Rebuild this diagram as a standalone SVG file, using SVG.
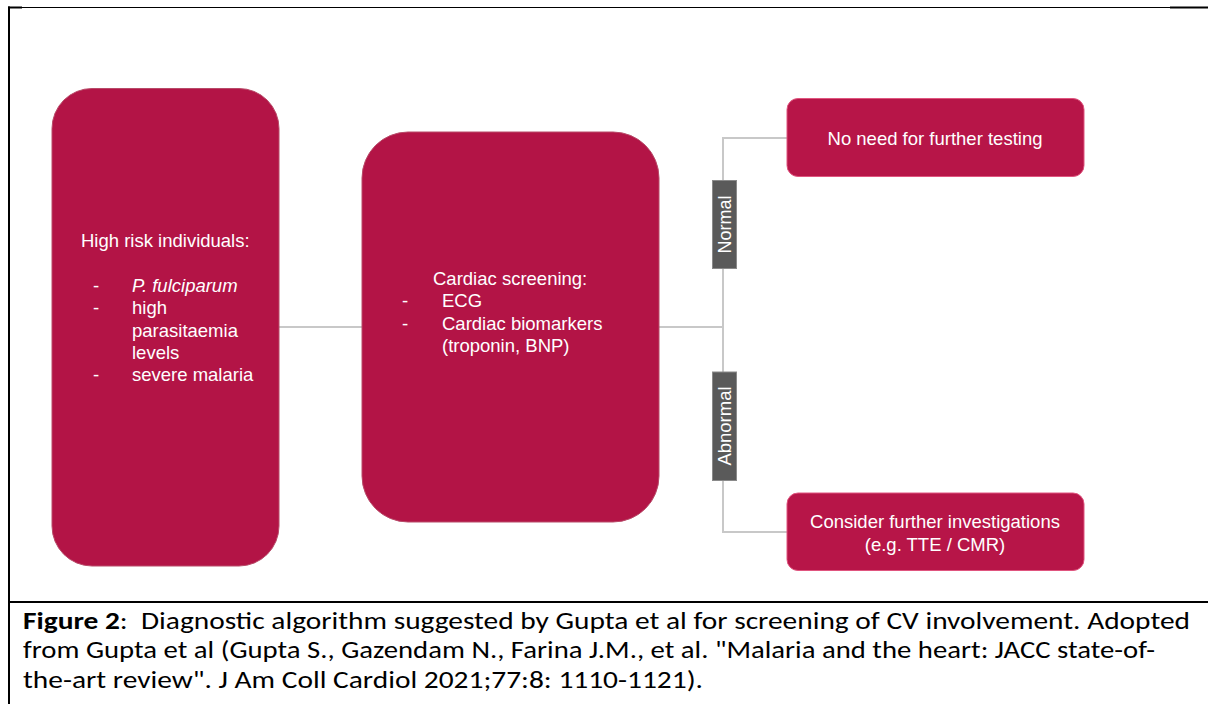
<svg xmlns="http://www.w3.org/2000/svg" width="1208" height="704" viewBox="0 0 1208 704">
  <style>
    .node { fill: #B31446; stroke: #b84a68; stroke-width: 1; }
    .small { fill: #B71548; stroke: #e0557f; stroke-width: 1; }
    .t { font-family: "Liberation Sans", Arial, sans-serif; font-size: 18.5px; fill: #ffffff; }
    .lab { fill: #5a5a5a; stroke: #8a8a8a; stroke-width: 1; }
    .lt { font-family: "Liberation Sans", Arial, sans-serif; font-size: 18px; fill: #ffffff; }
    .conn { fill: none; stroke: #c8c8c8; stroke-width: 2; }
    .cap { font-family: Carlito, Calibri, "Open Sans", "Liberation Sans", sans-serif; font-size: 23.5px; fill: #000000; }
  </style>
  <rect x="0" y="0" width="1208" height="704" fill="#ffffff"/>
  <g id="frame">
    <line x1="9" y1="7.5" x2="1170" y2="7.5" stroke="#000" stroke-width="1.2"/>
    <line x1="8" y1="7.5" x2="22" y2="7.5" stroke="#000" stroke-width="2"/>
    <line x1="1170" y1="7.5" x2="1208" y2="7.5" stroke="#000" stroke-width="2"/>
    <line x1="9" y1="6.5" x2="9" y2="704" stroke="#000" stroke-width="2"/>
    <line x1="8" y1="602" x2="1208" y2="602" stroke="#000" stroke-width="2"/>
  </g>
  <g id="connectors">
    <line class="conn" x1="279" y1="327" x2="362" y2="327"/>
    <line class="conn" x1="659" y1="327" x2="723" y2="327"/>
    <polyline class="conn" points="787,138 723,138 723,532 787,532"/>
  </g>
  <g id="node-high-risk">
    <rect class="node" x="52" y="88.5" width="227" height="477.5" rx="40" ry="40"/>
    <text class="t" x="81" y="247">High risk individuals:</text>
    <text class="t" x="93" y="292">-</text>
    <text class="t" x="132" y="292" font-style="italic">P. fulciparum</text>
    <text class="t" x="93" y="314">-</text>
    <text class="t" x="132" y="314">high</text>
    <text class="t" x="132" y="337">parasitaemia</text>
    <text class="t" x="132" y="359">levels</text>
    <text class="t" x="93" y="381">-</text>
    <text class="t" x="132" y="381">severe malaria</text>
  </g>
  <g id="node-screening">
    <rect class="node" x="362" y="132" width="297" height="390" rx="46" ry="46"/>
    <text class="t" x="433" y="285">Cardiac screening:</text>
    <text class="t" x="402" y="307">-</text>
    <text class="t" x="442" y="307">ECG</text>
    <text class="t" x="402" y="330">-</text>
    <text class="t" x="442" y="330">Cardiac biomarkers</text>
    <text class="t" x="442" y="352">(troponin, BNP)</text>
  </g>
  <g id="label-normal">
    <rect class="lab" x="712.5" y="180.5" width="24" height="88"/>
    <text class="lt" transform="translate(731,224.5) rotate(-90)" text-anchor="middle">Normal</text>
  </g>
  <g id="label-abnormal">
    <rect class="lab" x="712.5" y="372" width="24" height="108.5"/>
    <text class="lt" transform="translate(731,426) rotate(-90)" text-anchor="middle" style="font-size:18.5px">Abnormal</text>
  </g>
  <g id="node-no-need">
    <rect class="small" x="787" y="98.5" width="297" height="78" rx="11" ry="11"/>
    <text class="t" x="935" y="144.5" text-anchor="middle">No need for further testing</text>
  </g>
  <g id="node-consider">
    <rect class="small" x="787" y="493" width="297" height="77.5" rx="11" ry="11"/>
    <text class="t" x="935" y="528" text-anchor="middle">Consider further investigations</text>
    <text class="t" x="935" y="551" text-anchor="middle">(e.g. TTE / CMR)</text>
  </g>
  <g id="caption">
    <text class="cap" x="23" y="629" textLength="1167" lengthAdjust="spacingAndGlyphs"><tspan font-weight="bold">Figure 2</tspan>:&#160; Diagnostic algorithm suggested by Gupta et al for screening of CV involvement. Adopted</text>
    <text class="cap" x="23" y="658" textLength="1132" lengthAdjust="spacingAndGlyphs">from Gupta et al (Gupta S., Gazendam N., Farina J.M., et al. "Malaria and the heart: JACC state-of-</text>
    <text class="cap" x="23" y="688" textLength="680" lengthAdjust="spacingAndGlyphs">the-art review". J Am Coll Cardiol 2021;77:8: 1110-1121).</text>
  </g>
</svg>
